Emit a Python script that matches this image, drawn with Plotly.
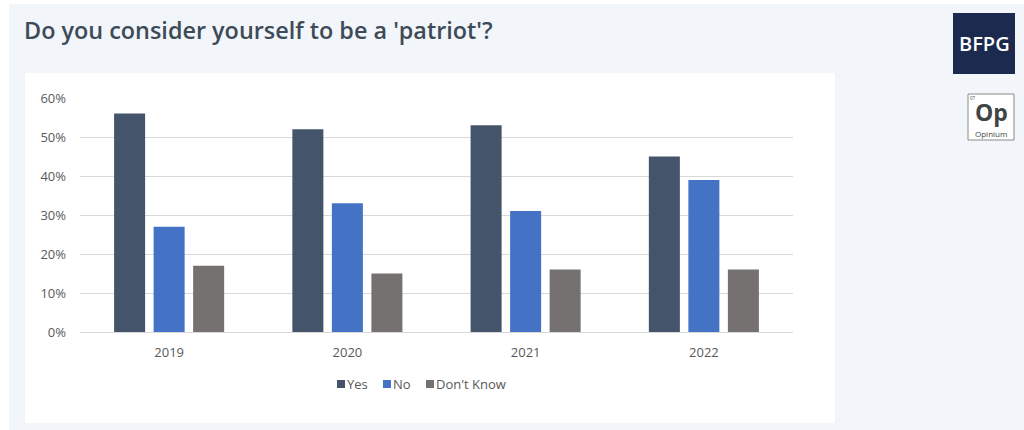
import plotly.graph_objects as go

# Survey results by year
years = ["2019", "2020", "2021", "2022"]
yes = [0.56, 0.52, 0.53, 0.45]
no = [0.27, 0.33, 0.31, 0.39]
dont_know = [0.17, 0.15, 0.16, 0.16]
series_names = ["Yes", "No", "Don't Know"]
series_colors = ["#44546a", "#4472c4", "#767171"]
tick_vals = [0, 0.1, 0.2, 0.3, 0.4, 0.5, 0.6]
tick_text = ["0%", "10%", "20%", "30%", "40%", "50%", "60%"]

W, H = 1024, 430
L, R, T, B = 80, 793, 98, 332


def px(x):
    return (x - L) / (R - L)


def py(y):
    return (B - y) / (B - T)


fig = go.Figure()
for name, vals, color in zip(series_names, [yes, no, dont_know], series_colors):
    fig.add_trace(go.Bar(x=years, y=vals, name=name, marker_color=color,
                         marker_line_width=0, showlegend=False))

shapes = [
    # page panel
    dict(type="rect", xref="paper", yref="paper", x0=px(9), x1=px(1024),
         y0=py(430), y1=py(4), fillcolor="#f2f5f9", line_width=0, layer="below"),
    # chart card
    dict(type="rect", xref="paper", yref="paper", x0=px(25), x1=px(835),
         y0=py(423), y1=py(73), fillcolor="#ffffff", line_width=0, layer="below"),
    # BFPG badge
    dict(type="rect", xref="paper", yref="paper", x0=px(953), x1=px(1015),
         y0=py(74), y1=py(13), fillcolor="#1c2a4f", line_width=0),
    # Opinium badge
    dict(type="rect", xref="paper", yref="paper", x0=px(968), x1=px(1014),
         y0=py(140), y1=py(94), fillcolor="#ffffff",
         line=dict(color="#8a8a8a", width=1)),
]

annotations = [
    dict(text="Do you consider yourself to be a 'patriot'?", xref="paper", yref="paper",
         x=px(22), y=py(30), xanchor="left", yanchor="middle", showarrow=False,
         font=dict(family="Open Sans", size=23.4, color="#3d4b58", weight=600)),
    dict(text="BFPG", xref="paper", yref="paper", x=px(984), y=py(44),
         xanchor="center", yanchor="middle", showarrow=False,
         font=dict(family="Open Sans", size=20, color="#ffffff", weight=600)),
    dict(text="Op", xref="paper", yref="paper", x=px(991), y=py(112),
         xanchor="center", yanchor="middle", showarrow=False, borderpad=0,
         font=dict(family="Open Sans", size=23, color="#3f4542", weight=700)),
    dict(text="Opinium", xref="paper", yref="paper", x=px(990.5), y=py(133.5),
         xanchor="center", yanchor="middle", showarrow=False, borderpad=0,
         font=dict(family="Open Sans", size=8, color="#3f4542")),
    dict(text="07", xref="paper", yref="paper", x=px(969.5), y=py(98),
         xanchor="left", yanchor="middle", showarrow=False, borderpad=0,
         font=dict(family="Open Sans", size=4.5, color="#3f4542")),
]

# Compact legend row: small colour squares followed by the series names
legend_x = [337, 383, 426]
legend_y = 384
for name, color, x0 in zip(series_names, series_colors, legend_x):
    shapes.append(dict(type="rect", xref="paper", yref="paper",
                       x0=px(x0), x1=px(x0 + 8), y0=py(legend_y + 4), y1=py(legend_y - 4),
                       fillcolor=color, line_width=0))
    annotations.append(dict(text=name, xref="paper", yref="paper",
                            x=px(x0 + 8), y=py(legend_y), xanchor="left", yanchor="middle",
                            showarrow=False,
                            font=dict(family="Open Sans", size=13, color="#595959")))

fig.update_layout(
    width=W, height=H,
    margin=dict(l=L, r=W - R, t=T, b=H - B, autoexpand=False),
    paper_bgcolor="#ffffff", plot_bgcolor="rgba(0,0,0,0)",
    barmode="group", bargap=0.335, bargroupgap=0.215,
    shapes=shapes, annotations=annotations, showlegend=False,
    font=dict(family="Open Sans", size=13, color="#595959"),
    xaxis=dict(showgrid=False, showline=True, linecolor="#d9d9d9", linewidth=1,
               ticks="", ticklabelstandoff=8, tickfont=dict(size=13, color="#595959")),
    yaxis=dict(range=[0, 0.6], tickvals=tick_vals, ticktext=tick_text,
               showgrid=True, gridcolor="#d9d9d9", gridwidth=1, zeroline=False,
               showline=False, ticks="", ticklabelstandoff=13,
               tickfont=dict(size=13, color="#595959")),
)

fig.write_html("out.html")
